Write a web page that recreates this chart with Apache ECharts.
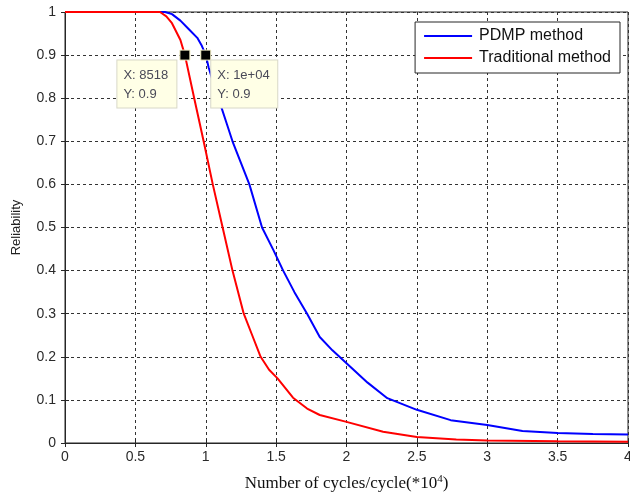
<!DOCTYPE html>
<html>
<head>
<meta charset="utf-8">
<script src="https://cdn.jsdelivr.net/npm/echarts@6/dist/echarts.min.js"></script>
<style>html,body{margin:0;padding:0;background:#fff}#c{width:630px;height:495px}</style>
</head>
<body>
<div id="c"></div>
<script>
// Data (x in units of 10^4 cycles)
const pdmpX = [0, 0.71, 0.76, 0.82, 0.88, 0.94, 0.97, 1.0, 1.02, 1.05, 1.09, 1.11, 1.15, 1.19, 1.25, 1.31, 1.40, 1.48, 1.55, 1.63, 1.72, 1.81, 1.9, 2.0, 2.15, 2.29, 2.5, 2.74, 3.0, 3.25, 3.5, 3.75, 4.0];
const pdmpY = [1, 1, 0.995, 0.98, 0.96, 0.94, 0.923, 0.9, 0.872, 0.84, 0.80, 0.78, 0.74, 0.70, 0.65, 0.60, 0.50, 0.448, 0.40, 0.35, 0.30, 0.246, 0.215, 0.185, 0.14, 0.104, 0.077, 0.053, 0.042, 0.028, 0.023, 0.021, 0.02];
const tradX = [0, 0.675, 0.72, 0.76, 0.82, 0.852, 0.918, 0.985, 1.05, 1.12, 1.19, 1.27, 1.33, 1.39, 1.45, 1.51, 1.62, 1.72, 1.81, 2.0, 2.26, 2.5, 2.78, 3.0, 3.5, 4.0];
const tradY = [1, 1, 0.99, 0.974, 0.935, 0.9, 0.8, 0.7, 0.60, 0.50, 0.40, 0.30, 0.25, 0.20, 0.17, 0.15, 0.105, 0.08, 0.065, 0.049, 0.026, 0.014, 0.008, 0.006, 0.004, 0.003];
const seriesNames = ['PDMP method', 'Traditional method'];
const tipX = [0.8518, 1.0];
const tipY = [0.9, 0.9];
const tipText = [['X: 8518', 'Y: 0.9'], ['X: 1e+04', 'Y: 0.9']];

const zip = (a, b) => a.map((v, i) => [v, b[i]]);
const axCol = '#262626';
const gridLine = { show: true, lineStyle: { color: '#333', type: [3, 3], width: 1 } };

const chart = echarts.init(document.getElementById('c'));
chart.setOption({
  animation: false,
  backgroundColor: '#fff',
  grid: { left: 65, right: 2, top: 12, bottom: 52, show: true, borderColor: axCol, borderWidth: 1, containLabel: false, outerBoundsMode: 'none' },
  legend: {
    data: seriesNames,
    orient: 'vertical',
    right: 10, top: 22,
    backgroundColor: '#fff',
    borderColor: axCol, borderWidth: 1,
    padding: [6, 9, 7, 9],
    icon: 'path://M0,0H48V2H0Z',
    itemWidth: 48, itemHeight: 2, itemGap: 6,
    textStyle: { fontFamily: 'Liberation Sans, Arial', fontSize: 16, color: '#111', padding: [0, 0, 0, 2] }
  },
  xAxis: [{
    type: 'value', min: 0, max: 4, interval: 0.5,
    axisLine: { lineStyle: { color: axCol } },
    axisTick: { inside: true, length: 4, lineStyle: { color: axCol } },
    axisLabel: { color: '#2a2a2a', fontFamily: 'Liberation Sans, Arial', fontSize: 14, margin: 7 },
    splitLine: gridLine,
    name: '{a|Number of cycles/cycle(*10}{s|4}{a|)}',
    nameLocation: 'middle', nameGap: 31,
    nameTextStyle: { rich: {
      a: { fontFamily: 'Liberation Serif, Times New Roman', fontSize: 17, color: '#111' },
      s: { fontFamily: 'Liberation Serif, Times New Roman', fontSize: 11, color: '#111', verticalAlign: 'top', padding: [0, 0, 9, 0] }
    } }
  }, {
    type: 'value', min: 0, max: 4, interval: 0.5, position: 'top',
    axisLine: { lineStyle: { color: axCol } },
    axisTick: { inside: true, length: 4, lineStyle: { color: axCol } },
    axisLabel: { show: false }, splitLine: { show: false }
  }],
  yAxis: [{
    type: 'value', min: 0, max: 1, interval: 0.1,
    axisLine: { show: true, lineStyle: { color: axCol } },
    axisTick: { show: true, inside: true, length: 4, lineStyle: { color: axCol } },
    axisLabel: { color: '#2a2a2a', fontFamily: 'Liberation Sans, Arial', fontSize: 14, margin: 9 },
    splitLine: gridLine,
    name: 'Reliability', nameLocation: 'middle', nameGap: 42,
    nameTextStyle: { fontFamily: 'Liberation Sans, Arial', fontSize: 13, color: '#222' }
  }, {
    type: 'value', min: 0, max: 1, interval: 0.1, position: 'right',
    axisLine: { show: true, lineStyle: { color: axCol } },
    axisTick: { show: true, inside: true, length: 4, lineStyle: { color: axCol } },
    axisLabel: { show: false }, splitLine: { show: false }
  }],
  series: [{
    name: seriesNames[0], type: 'line', data: zip(pdmpX, pdmpY),
    symbol: 'none', lineStyle: { color: '#0000ff', width: 2 }, itemStyle: { color: '#0000ff' }, z: 3
  }, {
    name: seriesNames[1], type: 'line', data: zip(tradX, tradY),
    symbol: 'none', lineStyle: { color: '#ff0000', width: 2 }, itemStyle: { color: '#ff0000' }, z: 3
  }, {
    type: 'scatter', symbol: 'rect', symbolSize: 10, z: 5,
    itemStyle: { color: '#000', borderColor: '#f5f0c8', borderWidth: 1, opacity: 1 },
    data: tipX.map((x, i) => ({
      value: [x, tipY[i]],
      label: {
        show: true,
        formatter: tipText[i].join('\n'),
        position: i === 0 ? [-62, 11] : [11, 11],
        align: 'left', verticalAlign: 'top',
        backgroundColor: '#ffffe6', borderColor: '#d8d8c8', borderWidth: 1,
        padding: [5, 6, 4, 6], lineHeight: 19,
        fontFamily: 'Liberation Sans, Arial', fontSize: 13, color: '#4a4a58',
        width: i === 0 ? 47 : 54
      }
    }))
  }]
});
</script>
</body>
</html>
